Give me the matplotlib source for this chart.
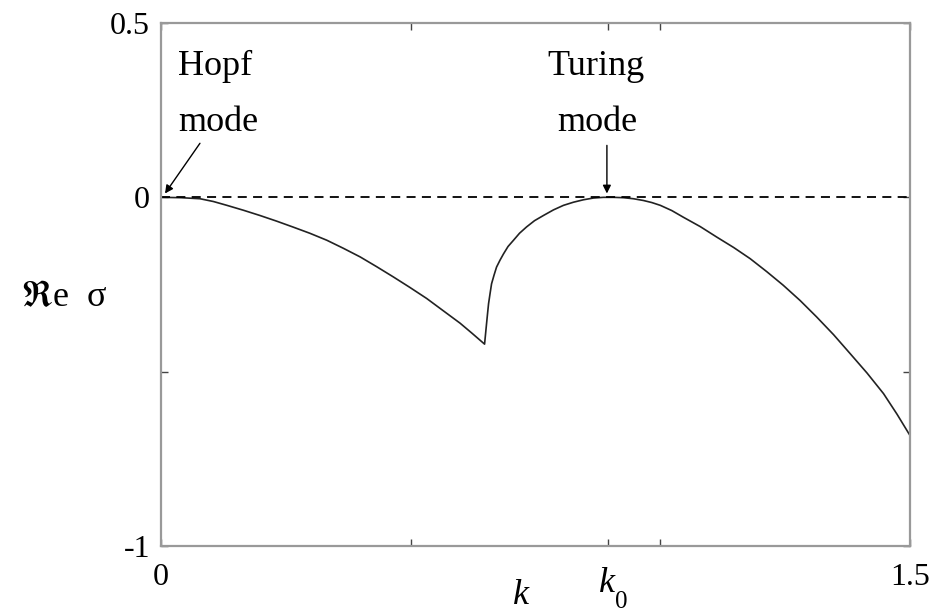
import numpy as np
import matplotlib.pyplot as plt

plt.rcParams['font.family'] = ['Liberation Serif', 'DejaVu Serif']
plt.rcParams['mathtext.fontset'] = 'stix'

# values
hopf_k = [0.0, 0.04, 0.078, 0.105, 0.132, 0.165, 0.198, 0.231, 0.264, 0.298, 0.332,
          0.365, 0.399, 0.432, 0.465, 0.498, 0.532, 0.565, 0.599, 0.623, 0.648]
hopf_re = [0.0, -0.001, -0.004, -0.012, -0.023, -0.037, -0.052, -0.068, -0.085, -0.103, -0.123,
           -0.146, -0.171, -0.199, -0.228, -0.258, -0.290, -0.325, -0.361, -0.390, -0.421]

turing_k = [0.652, 0.654, 0.656, 0.659, 0.662, 0.667, 0.672, 0.679, 0.686, 0.695, 0.706,
            0.718, 0.732, 0.748, 0.766, 0.786, 0.806, 0.826, 0.846, 0.866, 0.886, 0.906,
            0.926, 0.946, 0.966, 0.983, 1.000, 1.023, 1.046, 1.080, 1.113, 1.147, 1.180,
            1.213, 1.246, 1.280, 1.313, 1.347, 1.380, 1.414, 1.447, 1.474, 1.500]
turing_re = [-0.362, -0.333, -0.305, -0.276, -0.248, -0.223, -0.200, -0.180, -0.162, -0.141, -0.123,
             -0.103, -0.085, -0.067, -0.052, -0.036, -0.023, -0.014, -0.007, -0.002, 0.0, 0.0,
             -0.001, -0.004, -0.009, -0.015, -0.023, -0.038, -0.057, -0.084, -0.114, -0.144, -0.176,
             -0.213, -0.252, -0.296, -0.343, -0.394, -0.448, -0.504, -0.563, -0.622, -0.683]

k0 = 0.895
xticks = [0, 0.5, k0, 1.0, 1.5]
xtick_labels = ['0', '', '', '', '1.5']
yticks = [-1, -0.5, 0, 0.5]
ytick_labels = ['-1', '', '0', '0.5']

W, H = 931, 612
fig = plt.figure(figsize=(W / 100, H / 100), dpi=100)
ax = fig.add_axes([161 / W, 1 - 546 / H, 749 / W, 523 / H])

k = np.concatenate([hopf_k, turing_k])
re = np.concatenate([hopf_re, turing_re])
ax.plot(k, re, color='#222222', lw=1.2)
ax.axhline(0, color='black', lw=1.3, dashes=(5, 3.5))

ax.set_xlim(0, 1.5)
ax.set_ylim(-1, 0.5)
ax.set_xticks(xticks)
ax.set_xticklabels(xtick_labels)
ax.set_yticks(yticks)
ax.set_yticklabels(ytick_labels)
ax.tick_params(direction='in', top=True, right=True, length=5, width=1,
               color='#444444', labelsize=23)
ax.tick_params(axis='x', pad=12)
ax.tick_params(axis='y', pad=8)
for s in ax.spines.values():
    s.set_color('#999999')
    s.set_linewidth(1.6)

fs = 26
ax.text(0.108, 0.350, 'Hopf', ha='center', va='baseline', fontsize=fs)
ax.text(0.114, 0.189, 'mode', ha='center', va='baseline', fontsize=fs)
ax.text(0.871, 0.350, 'Turing', ha='center', va='baseline', fontsize=fs)
ax.text(0.873, 0.189, 'mode', ha='center', va='baseline', fontsize=fs)

arrow = dict(arrowstyle='-|>', color='black', lw=1, mutation_scale=12, shrinkA=0, shrinkB=0)
ax.annotate('', xy=(0.008, 0.011), xytext=(0.078, 0.155), arrowprops=arrow)
ax.annotate('', xy=(0.893, 0.011), xytext=(0.893, 0.149), arrowprops=arrow)

fig.text(64 / W, 1 - 298 / H, r'$\Re$e  σ', ha='center', va='center', fontsize=fs)
fig.text(521 / W, 1 - 596 / H, 'k', style='italic', ha='center', va='center', fontsize=fs)
fig.text(607 / W, 1 - 584 / H, 'k', style='italic', ha='center', va='center', fontsize=fs)
fig.text(621 / W, 1 - 602 / H, '0', ha='center', va='center', fontsize=18)

fig.savefig('out.png', dpi=100)
